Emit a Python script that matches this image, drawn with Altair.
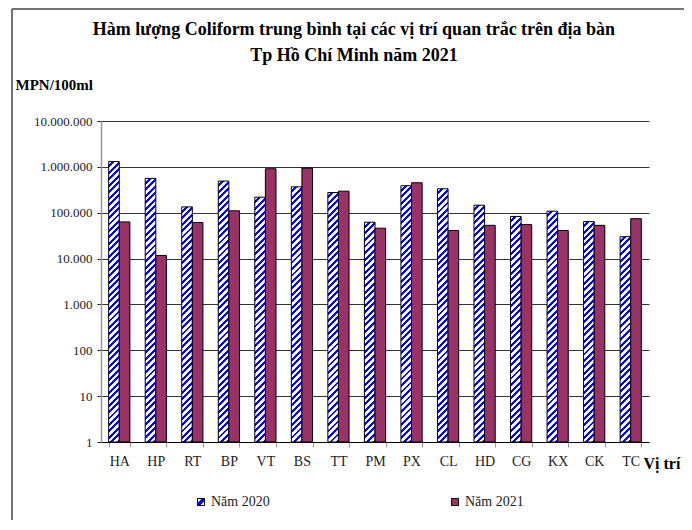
import math
import json
import altair as alt
import pandas as pd

# ---------------- data ----------------
sites = ["HA", "HP", "RT", "BP", "VT", "BS", "TT", "PM", "PX", "CL", "HD", "CG", "KX", "CK", "TC"]
v2020 = [1300000, 560000, 134000, 490000, 218000, 366000, 276000, 62000,
         388000, 333000, 146000, 83000, 108000, 64000, 30000]
v2021 = [63000, 11700, 61000, 110000, 910000, 940000, 295000, 46000,
         450000, 41000, 53000, 55000, 41000, 53000, 74000]
years = ["Năm 2020", "Năm 2021"]
y_ticks = [1, 10, 100, 1000, 10000, 100000, 1000000, 10000000]
y_tick_labels = ["1", "10", "100", "1.000", "10.000", "100.000", "1.000.000", "10.000.000"]
title_lines = ["Hàm lượng Coliform trung bình tại các vị trí quan trắc trên địa bàn",
               "Tp Hồ Chí Minh năm 2021"]

# ---------------- style ----------------
W, H = 548, 321
PAD_IN = 0.42
BLUE = "#0000ff"
MAROON = "#993366"
FONT = "Liberation Serif"
bar_w = W / len(sites) * (1 - PAD_IN) / 2


def hatch(value):
    """Diagonal '/' hatch as a hard-stop linear gradient for one bar."""
    w = bar_w
    h = H * math.log10(value) / 7.0
    period = 6.5
    n = max(1, round((w + h) / period))
    frac = 0.45
    stops = []
    for k in range(n):
        a, b, c = k / n, (k + 1 - frac) / n, (k + 1) / n
        stops += [{"offset": a, "color": "white"}, {"offset": b, "color": "white"},
                  {"offset": b, "color": BLUE}, {"offset": c, "color": BLUE}]
    den = w * w + h * h
    return {"gradient": "linear", "x1": 0, "y1": 0,
            "x2": (w + h) * w / den, "y2": (w + h) * h / den, "stops": stops}


rows = []
for s, a, b in zip(sites, v2020, v2021):
    rows.append({"site": s, "year": years[0], "value": a})
    rows.append({"site": s, "year": years[1], "value": b})
df = pd.DataFrame(rows)

conditions = [
    {"test": f"datum.site === '{s}' && datum.year === '{years[0]}'", "value": hatch(v)}
    for s, v in zip(sites, v2020)
]

legend_hatch = ("{gradient: 'linear', x1: 0, y1: 0, x2: 1, y2: 1, stops: ["
                "{offset: 0, color: 'white'}, {offset: 0.32, color: 'white'}, "
                f"{{offset: 0.32, color: '{BLUE}'}}, {{offset: 0.68, color: '{BLUE}'}}, "
                "{offset: 0.68, color: 'white'}, {offset: 1, color: 'white'}]}")

label_expr = json.dumps(y_tick_labels) + "[round(log(datum.value) / LN10)]"

base = alt.Chart(df).encode(
    x=alt.X("site:N", sort=sites,
            scale=alt.Scale(paddingInner=PAD_IN, paddingOuter=PAD_IN / 2),
            axis=alt.Axis(title="Vị trí", labelAngle=0, labelFont=FONT, labelFontSize=14,
                          labelColor="#222", labelPadding=7, domainColor="#000",
                          tickColor="#999", tickSize=5, tickBand="extent", grid=False,
                          titleFont=FONT, titleFontSize=16, titleFontWeight="bold",
                          titleColor="#000", titleX=542, titleY=21, titleAlign="left",
                          titleBaseline="middle")),
    xOffset=alt.XOffset("year:N", sort=years),
    y=alt.Y("value:Q",
            scale=alt.Scale(type="log", domain=[1, 10000000]),
            axis=alt.Axis(values=y_ticks, labelExpr=label_expr, labelFont=FONT,
                          labelFontSize=13, labelColor="#222", labelPadding=5,
                          tickSize=4, tickColor="#222", domainColor="#999",
                          domainWidth=1.5, grid=True, gridColor="#333",
                          title="MPN/100ml", titleAngle=0, titleFont=FONT,
                          titleFontSize=15, titleFontWeight="bold", titleColor="#000",
                          titleX=-86, titleY=-32, titleAlign="left",
                          titleBaseline="alphabetic")),
    y2=alt.datum(1),
)

shadow = base.mark_bar(fill="#a8a8a8", xOffset=2, yOffset=2)

bars = base.mark_bar(stroke="black", strokeWidth=1).encode(
    fill=alt.Fill("year:N",
                  scale=alt.Scale(domain=years, range=[{"expr": legend_hatch}, MAROON]),
                  legend=alt.Legend(title=None, orient="none", legendX=93, legendY=374,
                                    direction="horizontal", columnPadding=178,
                                    labelFont=FONT, labelFontSize=14, labelColor="#222",
                                    labelOffset=3, symbolType="square", symbolSize=49,
                                    symbolStrokeColor="black", symbolStrokeWidth=1,
                                    padding=0),
                  condition=conditions),
)

frame_df = pd.DataFrame({"k": [0]})
frame_top = alt.Chart(frame_df).mark_rule(color="#444", strokeWidth=1.5).encode(
    x=alt.value(-89), x2=alt.value(W + 200), y=alt.value(-112))
frame_left = alt.Chart(frame_df).mark_rule(color="#444", strokeWidth=1.5).encode(
    x=alt.value(-89), y=alt.value(-112), y2=alt.value(H + 200))

chart = alt.layer(shadow, bars, frame_top, frame_left).properties(
    width=W, height=H,
    autosize="none",
    padding={"left": 93, "top": 113, "right": 35, "bottom": 78},
    title=alt.TitleParams(text=title_lines, font=FONT, fontSize=18, fontWeight="bold",
                          color="#000", anchor="middle", frame="group", lineHeight=26,
                          dx=-21, dy=61),
).configure(font=FONT).configure_view(strokeWidth=0)

chart.save("out.html", embed_options={"renderer": "svg", "actions": False})
